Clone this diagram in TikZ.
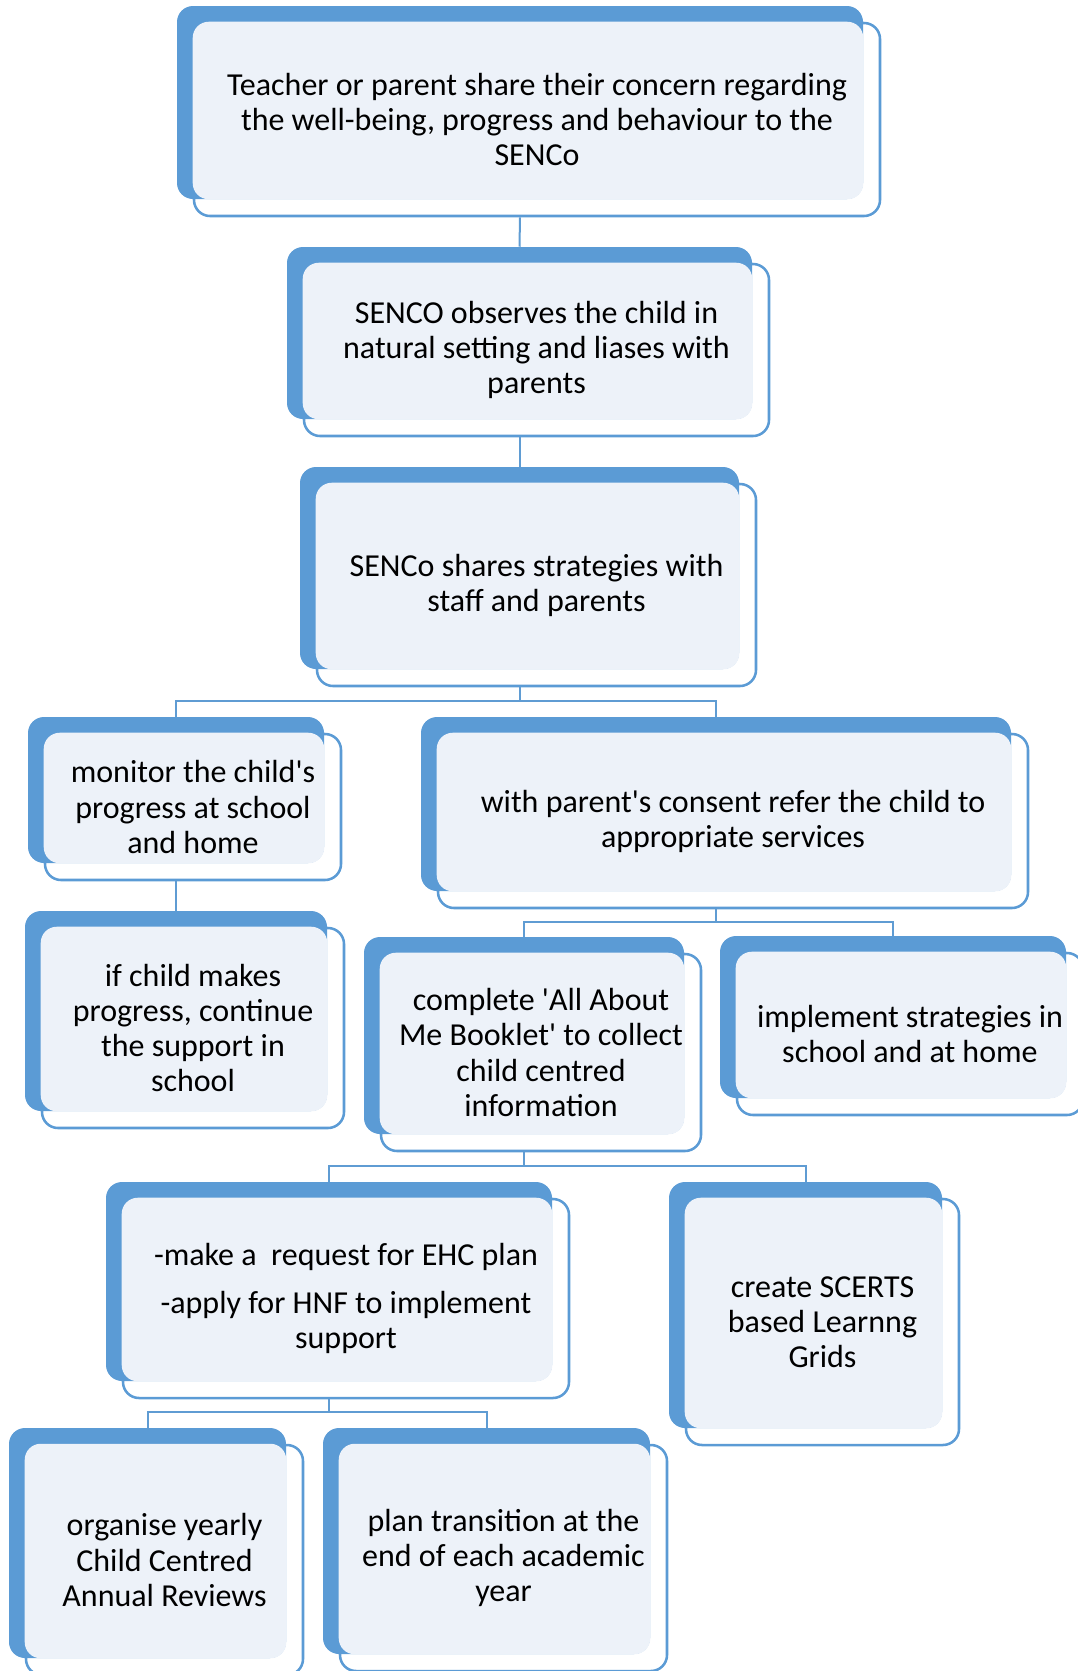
\documentclass[tikz,border=0pt]{standalone}
\usepackage{fontspec}
\setmainfont{Carlito}
\usepackage{xcolor}
\usepackage{tikz}
\usetikzlibrary{positioning,calc}
\definecolor{boxblue}{HTML}{5B9BD5}
\definecolor{boxlight}{HTML}{EDF2F9}
\definecolor{linkblue}{HTML}{5F9CD3}
% one box: name, blue corner x1 y1, x2 y2 (pixels), text
\newcommand{\senbox}[6]{%
  \node[Outer, minimum width={(#4-#2)*0.75pt}, minimum height={(#5-#3)*0.75pt}]
    (#1o) at ({(#2+#4)/2+17},{(#3+#5)/2+17}) {};
  \node[Blue, minimum width={(#4-#2)*0.75pt}, minimum height={(#5-#3)*0.75pt}]
    (#1) at ({(#2+#4)/2},{(#3+#5)/2}) {};
  \fill[Light] (#1o.north west) rectangle (#1.south east);
  \node[Words] (#1t) at (#1o.center) {#6};
}

\begin{document}
\begin{tikzpicture}
  [
    x=0.75pt, y=-0.75pt,
    Blue/.style={rectangle, rounded corners=12pt, fill=boxblue, inner sep=0pt},
    Outer/.style={rectangle, rounded corners=12pt, draw=boxblue, fill=white, line width=1.9pt, inner sep=0pt},
    Light/.style={fill=boxlight, rounded corners=12pt},
    Words/.style={align=center, inner sep=0pt, font=\fontsize{24}{26.3}\selectfont},
    Link/.style={draw=linkblue, line width=1.5pt}
  ]
  \useasboundingbox (0,0) rectangle (1078,1671);
  % Nodes
  \senbox{b1}{177}{6}{863}{199}{Teacher or parent share their concern regarding\\the well-being, progress and behaviour to the\\SENCo}
  \senbox{b2}{287}{247}{752}{419}{SENCO observes the child in\\natural setting and liases with\\parents}
  \senbox{b3}{300}{467}{739}{669}{SENCo shares strategies with\\staff and parents}
  \senbox{b4}{28}{717}{324}{863}{monitor the child\textquotesingle s\\progress at school\\and home}
  \senbox{b5}{25}{911}{327}{1111}{if child makes\\progress, continue\\the support in\\school}
  \senbox{b6}{421}{717}{1011}{891}{with parent\textquotesingle s consent refer the child to\\appropriate services}
  \senbox{b7}{364}{937}{684}{1134}{complete \textquotesingle All About\\Me Booklet\textquotesingle\ to collect\\child centred\\information}
  \senbox{b8}{720}{936}{1066}{1098}{implement strategies in\\school and at home}
  \senbox{b9}{106}{1182}{552}{1381}{-make a\ \ request for EHC plan\\[10pt]-apply for HNF to implement\\support}
  \senbox{b10}{669}{1182}{942}{1428}{create SCERTS\\based Learnng\\Grids}
  \senbox{b11}{9}{1428}{286}{1658}{organise yearly\\Child Centred\\Annual Reviews}
  \senbox{b12}{323}{1428}{650}{1654}{plan transition at the\\end of each academic\\year}
  % Joints
  \coordinate (j3) at (0,701);
  \coordinate (j6) at (0,922);
  \coordinate (j7) at (0,1166);
  \coordinate (j9) at (0,1412);
  % Lines
  \path [Link] (b1.south |- b1o.south) -- (b2.north);
  \path [Link] (b2.south |- b2o.south) -- (b3.north);
  \path [Link] (b3.south |- b3o.south) -- (b3.south |- j3) -| (b4.north);
  \path [Link] (b3.south |- j3) -| (b6.north);
  \path [Link] (b4.south |- b4o.south) -- (b5.north);
  \path [Link] (b6.south |- b6o.south) -- (b6.south |- j6) -| (b7.north);
  \path [Link] (b6.south |- j6) -| (b8.north);
  \path [Link] (b7.south |- b7o.south) -- (b7.south |- j7) -| (b9.north);
  \path [Link] (b7.south |- j7) -| (b10.north);
  \path [Link] (b9.south |- b9o.south) -- (b9.south |- j9) -| (b11.north);
  \path [Link] (b9.south |- j9) -| (b12.north);
\end{tikzpicture}
\end{document}
